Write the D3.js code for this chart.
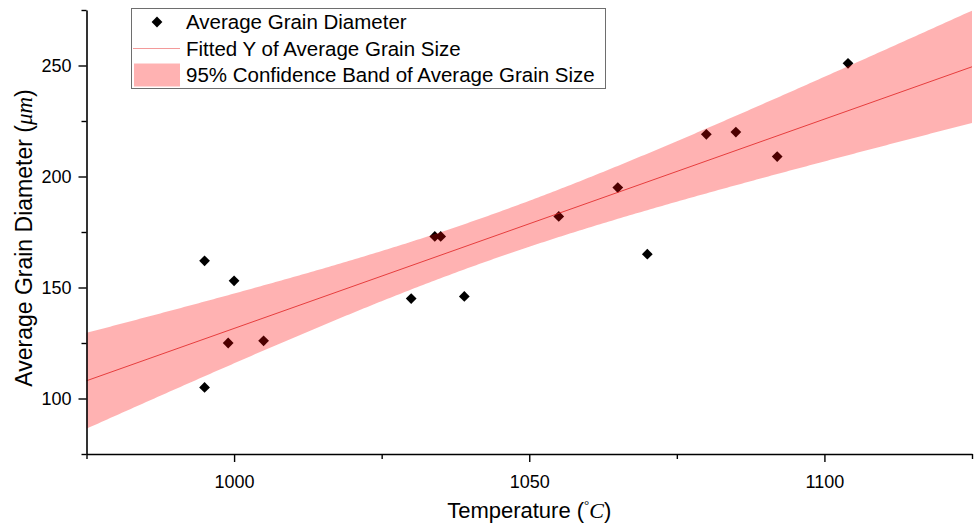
<!DOCTYPE html>
<html>
<head>
<meta charset="utf-8">
<script src="https://cdn.jsdelivr.net/npm/d3@7"></script>
<style>
  body { margin: 0; background: #fff; }
  svg { display: block; }
</style>
</head>
<body>
<div id="chart"></div>
<script>
// temperature (°C) and average grain diameter (µm)
const temps = [995, 1000, 995, 999, 1005, 1030, 1034, 1035, 1039, 1055, 1065, 1070, 1080, 1085, 1092, 1104]
const diams = [162, 153, 105, 125, 126, 145, 173, 173, 146, 182, 195, 165, 219, 220, 209, 251]

const xMajor = [1000, 1050, 1100]
const xMinor = [975, 1025, 1075, 1125]
const yMajor = [100, 150, 200, 250]
const yMinor = [75, 125, 175, 225, 275]

const legendLabels = [
  'Average Grain Diameter',
  'Fitted Y of Average Grain Size',
  '95% Confidence Band of Average Grain Size',
]

const width = 978
const height = 526
const margin = { top: 10, right: 6, bottom: 72, left: 86.5 }
const font = '"Liberation Sans", Arial, sans-serif'
const serif = '"Liberation Serif", "DejaVu Serif", serif'

const x = d3.scaleLinear().domain([975, 1125]).range([margin.left, width - margin.right])
const y = d3.scaleLinear().domain([75, 275]).range([height - margin.bottom, margin.top])

// linear fit + 95% confidence band of the mean (t(0.975, n-2))
const pts = temps.map((t, i) => ({ t, d: diams[i] }))
const n = pts.length
const mx = d3.mean(temps)
const my = d3.mean(diams)
const sxx = d3.sum(temps, (t) => (t - mx) ** 2)
const sxy = d3.sum(pts, (p) => (p.t - mx) * (p.d - my))
const slope = sxy / sxx
const icpt = my - slope * mx
const sse = d3.sum(pts, (p) => (p.d - (icpt + slope * p.t)) ** 2)
const s = Math.sqrt(sse / (n - 2))
const tCrit = 2.1448
const fit = (t) => icpt + slope * t
const half = (t) => tCrit * s * Math.sqrt(1 / n + (t - mx) ** 2 / sxx)

const svg = d3
  .select('#chart')
  .append('svg')
  .attr('width', width)
  .attr('height', height)
  .style('font-family', font)

const plot = svg.append('g')

// points first, band is drawn translucent over them
const diamond = d3.symbol().type(d3.symbolSquare).size(58)

plot
  .selectAll('path.pt')
  .data(pts)
  .join('path')
  .attr('class', 'pt')
  .attr('d', diamond)
  .attr('transform', (d) => `translate(${x(d.t)},${y(d.d)}) rotate(45)`)
  .attr('fill', '#000')

const grid = d3.range(0, 301).map((i) => 975 + i * 0.5)

plot
  .append('path')
  .datum(grid)
  .attr('fill', 'rgb(255,0,0)')
  .attr('fill-opacity', 0.3)
  .attr(
    'd',
    d3
      .area()
      .x((t) => x(t))
      .y0((t) => y(fit(t) - half(t)))
      .y1((t) => y(fit(t) + half(t))),
  )

plot
  .append('path')
  .datum(x.domain())
  .attr('fill', 'none')
  .attr('stroke', '#e02020')
  .attr('stroke-width', 0.8)
  .attr(
    'd',
    d3
      .line()
      .x((t) => x(t))
      .y((t) => y(fit(t))),
  )

// axes
const axisStyle = (g) => {
  g.selectAll('.domain').attr('stroke-width', 1.6)
  g.selectAll('.tick line').attr('stroke-width', 1.4)
  g.selectAll('text').style('font-family', font).style('font-size', '18px').attr('fill', '#000')
}

const fmt = d3.format('d')

const xg = svg.append('g').attr('transform', `translate(0,${y(75)})`)
xg.call(d3.axisBottom(x).tickValues(xMajor).tickFormat(fmt).tickSize(8).tickSizeOuter(0).tickPadding(13)).call(axisStyle)
xg.append('g').call(d3.axisBottom(x).tickValues(xMinor).tickSize(5).tickFormat('')).call(axisStyle)
xg.selectAll('g g .domain').remove()

const yg = svg.append('g').attr('transform', `translate(${x(975)},0)`)
yg.call(d3.axisLeft(y).tickValues(yMajor).tickFormat(fmt).tickSize(8).tickSizeOuter(0).tickPadding(7)).call(axisStyle)
yg.append('g').call(d3.axisLeft(y).tickValues(yMinor).tickSize(5).tickFormat('')).call(axisStyle)
yg.selectAll('g g .domain').remove()

// axis titles
const xt = svg
  .append('text')
  .attr('x', (x.range()[0] + x.range()[1]) / 2)
  .attr('y', 518)
  .attr('text-anchor', 'middle')
  .style('font-size', '22px')
xt.append('tspan').text('Temperature (')
xt.append('tspan').style('font-family', serif).style('font-size', '13px').attr('dy', -9).text('\u00B0')
xt.append('tspan').style('font-family', serif).style('font-style', 'italic').attr('dy', 9).text('C')
xt.append('tspan').text(')')

const yt = svg
  .append('text')
  .attr('transform', `translate(32,${238}) rotate(-90)`)
  .attr('text-anchor', 'middle')
  .style('font-size', '23px')
yt.append('tspan').text('Average Grain Diameter (')
yt.append('tspan').style('font-family', serif).style('font-style', 'italic').text('\u03BCm')
yt.append('tspan').text(')')

// legend
const lg = svg.append('g').attr('transform', 'translate(131,8)')
lg.append('rect')
  .attr('x', 0.5)
  .attr('y', 0.5)
  .attr('width', 474)
  .attr('height', 80)
  .attr('fill', '#fff')
  .attr('stroke', '#6e6e6e')
  .attr('stroke-width', 1)

const rowY = (i) => 14 + i * 26.5

lg.append('path')
  .attr('d', diamond)
  .attr('transform', `translate(26,${rowY(0)}) rotate(45)`)
  .attr('fill', '#000')
lg.append('line')
  .attr('x1', 2)
  .attr('x2', 49)
  .attr('y1', rowY(1))
  .attr('y2', rowY(1))
  .attr('stroke', '#f08080')
  .attr('stroke-width', 0.8)
lg.append('rect')
  .attr('x', 3)
  .attr('y', rowY(2) - 11.5)
  .attr('width', 46)
  .attr('height', 23)
  .attr('fill', 'rgb(255,0,0)')
  .attr('fill-opacity', 0.3)

lg.selectAll('text.lab')
  .data(legendLabels)
  .join('text')
  .attr('class', 'lab')
  .attr('x', 55)
  .attr('y', (d, i) => rowY(i))
  .attr('dy', '0.36em')
  .style('font-size', '20.5px')
  .text((d) => d)
</script>
</body>
</html>
